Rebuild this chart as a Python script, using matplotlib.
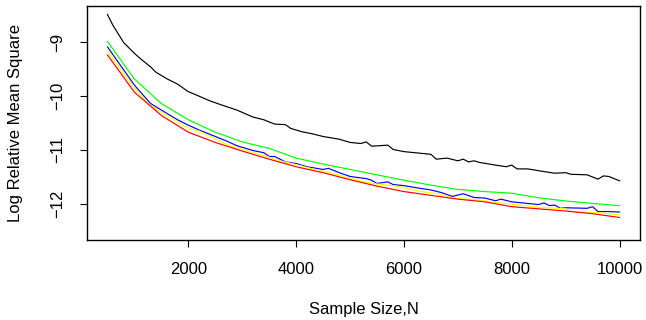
import matplotlib
matplotlib.use("Agg")
import matplotlib.pyplot as plt

plt.rcParams['font.family'] = ['Liberation Sans', 'DejaVu Sans']

# black curve
black_n = [500, 600, 700, 800, 1000, 1100, 1300, 1400, 1600, 1800, 2000, 2100, 2400, 2600,
           2900, 3200, 3400, 3600, 3800, 3900, 4100, 4300, 4500, 4800, 5000, 5200, 5300,
           5400, 5700, 5800, 6000, 6200, 6500, 6600, 6800, 7000, 7100, 7200, 7300, 7400,
           7700, 7900, 8000, 8100, 8300, 8600, 8800, 9000, 9100, 9400, 9600, 9700, 9800, 10000]
black_y = [-8.49, -8.69, -8.85, -9.01, -9.21, -9.30, -9.46, -9.56, -9.68, -9.78, -9.92, -9.96,
           -10.09, -10.16, -10.26, -10.39, -10.44, -10.52, -10.53, -10.60, -10.66, -10.70,
           -10.75, -10.80, -10.86, -10.88, -10.85, -10.93, -10.91, -10.99, -11.03, -11.05,
           -11.08, -11.17, -11.15, -11.20, -11.17, -11.22, -11.20, -11.23, -11.28, -11.31,
           -11.28, -11.35, -11.35, -11.40, -11.43, -11.42, -11.45, -11.46, -11.54, -11.48,
           -11.49, -11.57]

# green and red curves (every 500)
coarse_n = [500, 1000, 1500, 2000, 2500, 3000, 3500, 4000, 4500, 5000,
            5500, 6000, 6500, 7000, 7500, 8000, 8500, 9000, 9500, 10000]
green_y = [-8.99, -9.685, -10.14, -10.44, -10.67, -10.85, -10.97, -11.15, -11.26, -11.36,
           -11.46, -11.56, -11.65, -11.73, -11.77, -11.80, -11.885, -11.944, -11.99, -12.03]
red_y = [-9.24, -9.93, -10.36, -10.67, -10.86, -11.02, -11.17, -11.31, -11.42, -11.55,
         -11.67, -11.77, -11.84, -11.91, -11.96, -12.05, -12.09, -12.13, -12.18, -12.25]

# blue curve
blue_n = [500, 1000, 1300, 1400, 1800, 2000, 2200, 2500, 2700, 2900, 3200, 3400, 3500, 3600,
          3800, 4000, 4200, 4500, 4600, 4800, 5000, 5300, 5400, 5500, 5700, 5800, 6000, 6300,
          6500, 6700, 6900, 7100, 7300, 7500, 7700, 7800, 8000, 8200, 8500, 8600, 8700, 8800,
          8900, 9000, 9400, 9500, 9600, 9800, 10000]
blue_y = [-9.09, -9.80, -10.14, -10.20, -10.44, -10.54, -10.63, -10.75, -10.83, -10.92,
          -11.01, -11.05, -11.12, -11.12, -11.22, -11.25, -11.31, -11.36, -11.34, -11.42,
          -11.49, -11.53, -11.56, -11.62, -11.59, -11.64, -11.66, -11.71, -11.74, -11.79,
          -11.86, -11.81, -11.88, -11.89, -11.94, -11.91, -11.96, -11.98, -12.01, -11.98,
          -12.03, -12.02, -12.08, -12.07, -12.08, -12.05, -12.14, -12.14, -12.15]

# yellow curve
yellow_n = [500, 1000, 1300, 1500, 2000, 2200, 2700, 2900, 3400, 3700, 4000, 4300, 4600,
            5000, 5300, 5500, 5800, 6400, 6700, 6900, 7300, 7500, 7700, 8000, 8500, 9000,
            9100, 9600, 10000]
yellow_y = [-9.16, -9.86, -10.18, -10.30, -10.59, -10.65, -10.89, -10.96, -11.10, -11.20,
            -11.27, -11.35, -11.41, -11.52, -11.60, -11.63, -11.66, -11.78, -11.82, -11.89,
            -11.92, -11.94, -11.97, -12.00, -12.06, -12.09, -12.14, -12.16, -12.20]

xticks = [2000, 4000, 6000, 8000, 10000]
yticks = [-12, -11, -10, -9]

fig = plt.figure(figsize=(6.46, 3.2), dpi=100)
ax = fig.add_axes([87 / 646, 1 - 240 / 320, 553 / 646, 234 / 320])

lw = 0.85
ax.plot(black_n, black_y, color="black", lw=lw)
ax.plot(coarse_n, green_y, color="#00FF00", lw=lw)
ax.plot(blue_n, blue_y, color="#0000FF", lw=lw)
ax.plot(yellow_n, yellow_y, color="#FFFF00", lw=lw)
ax.plot(coarse_n, red_y, color="#FF0000", lw=lw)

ax.set_xlim(120, 10380)
ax.set_ylim(-12.667, -8.333)
ax.set_xticks(xticks)
ax.set_xticklabels([str(t) for t in xticks])
ax.set_yticks(yticks)
ax.set_yticklabels(["\u221212", "\u221211", "\u221210", "\u22129"], rotation=90, va="center")
ax.tick_params(direction="out", length=5, width=0.8, labelsize=12, pad=11)

for s in ax.spines.values():
    s.set_linewidth(1.0)

ax.set_xlabel("Sample Size,N", fontsize=12)
ax.set_ylabel("Log Relative Mean Square", fontsize=12)
ax.xaxis.set_label_coords(0.5, -0.265)
ax.yaxis.set_label_coords(-0.115, 0.5)

fig.savefig("out.png", dpi=100)
